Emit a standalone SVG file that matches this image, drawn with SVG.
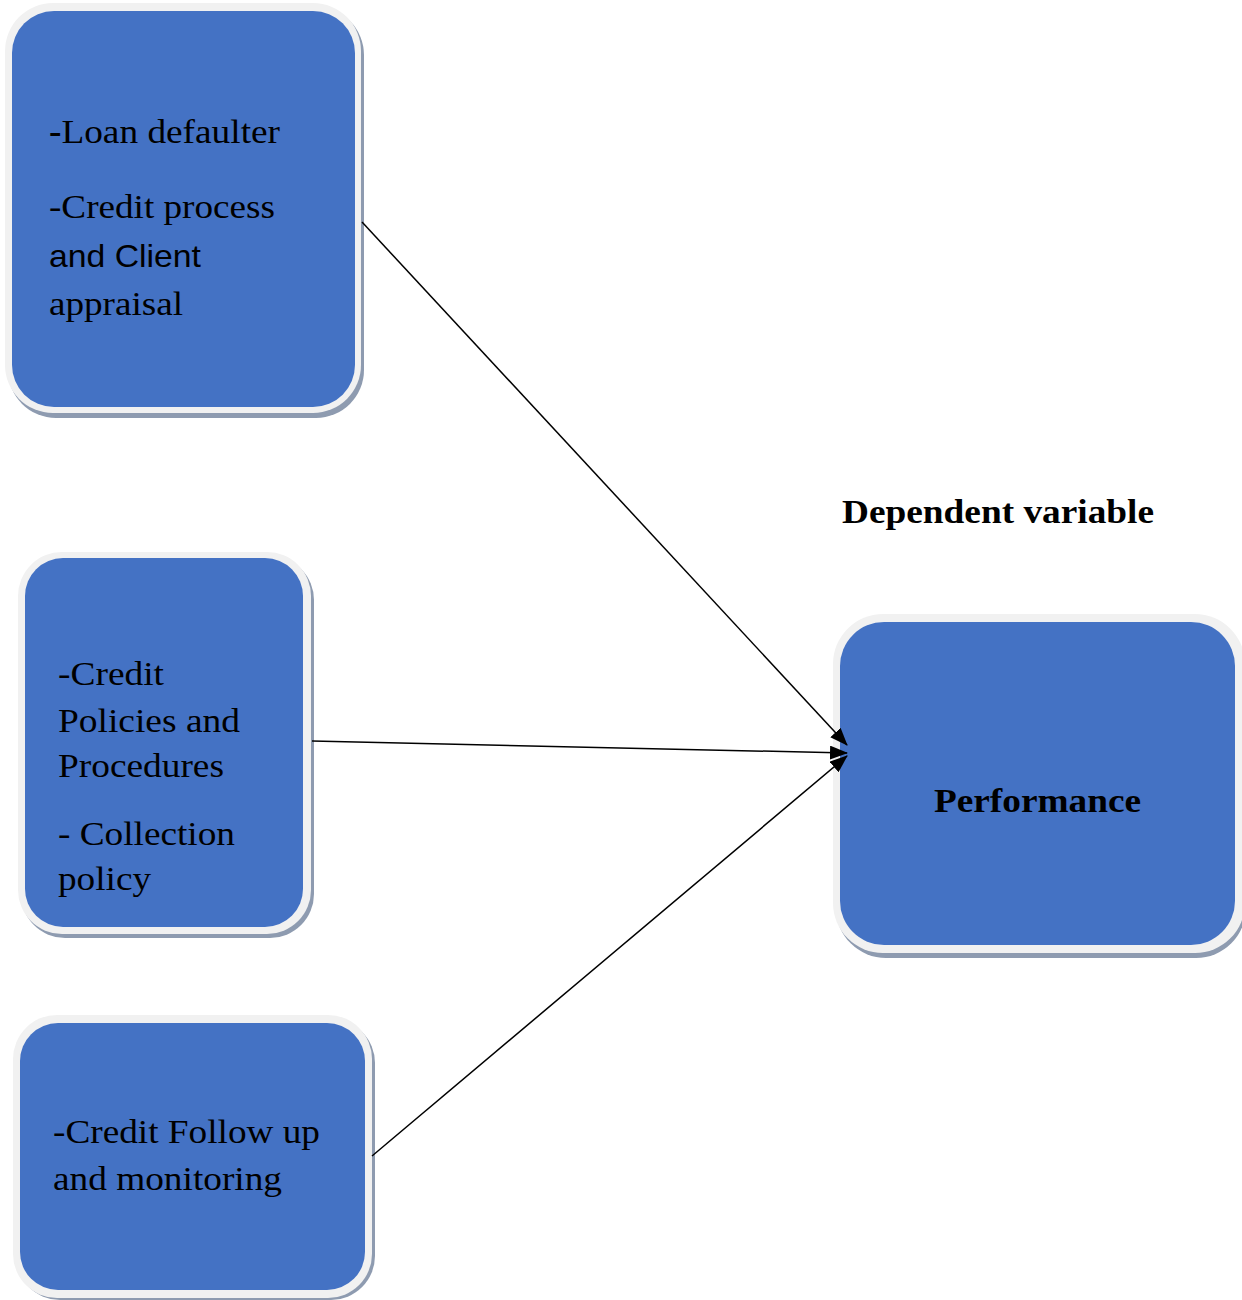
<svg xmlns="http://www.w3.org/2000/svg" width="1242" height="1300" viewBox="0 0 1242 1300">
<style>
.shadow{fill:#8e9bb0}
.rim{fill:#f1f1f1}
.fill{fill:#4472c4}
.t{font-family:"Liberation Serif","Times New Roman",serif;font-size:33px;fill:#000}
.s{font-family:"Liberation Sans",Arial,sans-serif;font-size:32px;fill:#000}
.b{font-family:"Liberation Serif","Times New Roman",serif;font-size:33px;font-weight:bold;fill:#000}
.c{stroke:#000;stroke-width:1.5;fill:none}
</style>
<defs>
<marker id="ah" markerWidth="18" markerHeight="14" refX="17" refY="7" orient="auto" markerUnits="userSpaceOnUse">
<path d="M0,0 L18,7 L0,14 Z" fill="#000"/>
</marker>
</defs>
<rect width="1242" height="1300" fill="#fff"/>
<g id="node-loan">
<rect class="shadow" x="8" y="7" width="356" height="411" rx="48"/>
<rect class="rim" x="5" y="3" width="356" height="410" rx="48"/>
<rect class="fill" x="12" y="11" width="343" height="396" rx="42"/>
<text class="t" x="49" y="143" textLength="231" lengthAdjust="spacingAndGlyphs"><tspan font-weight="bold">-</tspan>Loan defaulter</text>
<text class="t" x="49" y="218" textLength="226" lengthAdjust="spacingAndGlyphs">-Credit process</text>
<text class="s" x="49" y="267" textLength="152" lengthAdjust="spacingAndGlyphs">and Client</text>
<text class="t" x="49" y="315" textLength="134" lengthAdjust="spacingAndGlyphs">appraisal</text>
</g>
<g id="node-policies">
<rect class="shadow" x="21" y="556" width="293" height="382" rx="44"/>
<rect class="rim" x="18" y="552" width="293" height="382" rx="44"/>
<rect class="fill" x="25" y="558" width="278" height="369" rx="38"/>
<text class="t" x="58" y="685" textLength="106" lengthAdjust="spacingAndGlyphs">-Credit</text>
<text class="t" x="58" y="732" textLength="182" lengthAdjust="spacingAndGlyphs">Policies and</text>
<text class="t" x="58" y="777" textLength="166" lengthAdjust="spacingAndGlyphs">Procedures</text>
<text class="t" x="58" y="845" textLength="177" lengthAdjust="spacingAndGlyphs">- Collection</text>
<text class="t" x="58" y="890" textLength="93" lengthAdjust="spacingAndGlyphs">policy</text>
</g>
<g id="node-followup">
<rect class="shadow" x="16" y="1019" width="359" height="281" rx="44"/>
<rect class="rim" x="13" y="1015" width="359" height="283" rx="44"/>
<rect class="fill" x="20" y="1023" width="345" height="267" rx="38"/>
<text class="t" x="53" y="1143" textLength="267" lengthAdjust="spacingAndGlyphs">-Credit Follow up</text>
<text class="t" x="53" y="1190" textLength="229" lengthAdjust="spacingAndGlyphs">and monitoring</text>
</g>
<text id="label-dependent" class="b" x="842" y="523" textLength="312" lengthAdjust="spacingAndGlyphs">Dependent variable</text>
<g id="node-performance">
<rect class="shadow" x="836" y="618" width="410" height="340" rx="50"/>
<rect class="rim" x="833" y="614" width="412" height="339" rx="50"/>
<rect class="fill" x="840" y="622" width="395" height="323" rx="44"/>
<text class="b" x="934" y="812" textLength="207" lengthAdjust="spacingAndGlyphs">Performance</text>
</g>
<g id="connectors">
<line class="c" x1="362" y1="222" x2="847" y2="745" marker-end="url(#ah)"/>
<line class="c" x1="312" y1="741" x2="847" y2="753" marker-end="url(#ah)"/>
<line class="c" x1="372" y1="1156" x2="847" y2="756" marker-end="url(#ah)"/>
</g>
</svg>
